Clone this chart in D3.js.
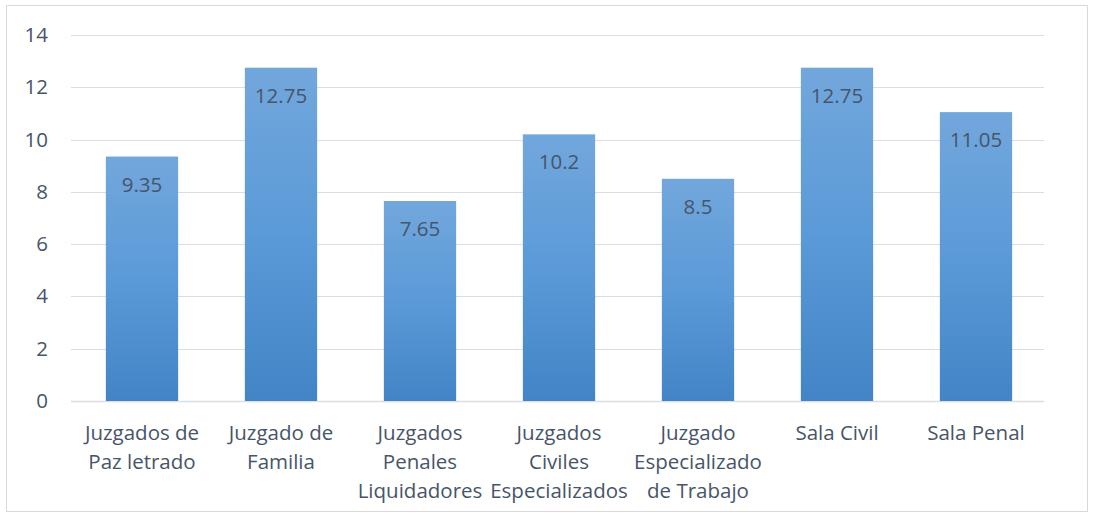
<!DOCTYPE html>
<html>
<head>
<meta charset="utf-8">
<script src="https://cdn.jsdelivr.net/npm/d3@7"></script>
<style>
  body { margin: 0; background: #fff; }
  text { font-family: "Open Sans", "Noto Sans", sans-serif; fill: #475569; }
</style>
</head>
<body>
<div id="chart"></div>
<script>
const categories = [
    ["Juzgados de", "Paz letrado"],
    ["Juzgado de", "Familia"],
    ["Juzgados", "Penales", "Liquidadores"],
    ["Juzgados", "Civiles", "Especializados"],
    ["Juzgado", "Especializado", "de Trabajo"],
    ["Sala Civil"],
    ["Sala Penal"]
];
const values = [9.35, 12.75, 7.65, 10.2, 8.5, 12.75, 11.05];
const yTicks = [0, 2, 4, 6, 8, 10, 12, 14];

const W = 1093, H = 517;
const margin = {top: 35, right: 49, bottom: 116, left: 71};
const width = W - margin.left - margin.right;
const height = H - margin.top - margin.bottom;
const fontSize = "20.5px";

const svg = d3.select("#chart").append("svg")
    .attr("width", W)
    .attr("height", H);

// chart frame
svg.append("rect")
    .attr("x", 6.5).attr("y", 5.5)
    .attr("width", 1081).attr("height", 506)
    .attr("fill", "none")
    .attr("stroke", "#d9d9d9");

const defs = svg.append("defs");
const grad = defs.append("linearGradient")
    .attr("id", "barGrad")
    .attr("x1", 0).attr("y1", 0).attr("x2", 0).attr("y2", 1);
grad.append("stop").attr("offset", "0%").attr("stop-color", "#72a7dc");
grad.append("stop").attr("offset", "50%").attr("stop-color", "#5b9ad8");
grad.append("stop").attr("offset", "100%").attr("stop-color", "#4284c6");

const g = svg.append("g").attr("transform", `translate(${margin.left}, ${margin.top})`);

const x = d3.scaleBand()
    .domain(d3.range(categories.length))
    .range([1.5, width + 1.5])
    .paddingInner(0.48)
    .paddingOuter(0.24);

const y = d3.scaleLinear()
    .domain([0, 14])
    .range([height, 0]);

// gridlines
g.append("g")
    .selectAll("line")
    .data(yTicks)
    .join("line")
    .attr("x1", 0)
    .attr("x2", width)
    .attr("y1", d => Math.round(y(d)) + 0.5)
    .attr("y2", d => Math.round(y(d)) + 0.5)
    .attr("stroke", "#d9dde4")
    .attr("stroke-width", d => d === 0 ? 1.5 : 1);

// y axis labels
const yAxis = d3.axisLeft(y).tickValues(yTicks).tickSize(0).tickPadding(23);
g.append("g")
    .call(yAxis)
    .call(s => s.select(".domain").remove())
    .selectAll("text")
    .style("font-size", fontSize)
    .style("font-family", "\"Open Sans\", \"Noto Sans\", sans-serif")
    .attr("fill", "#475569");

// bars
g.selectAll(".bar")
    .data(values)
    .join("rect")
    .attr("class", "bar")
    .attr("x", (d, i) => x(i))
    .attr("y", d => y(d))
    .attr("width", x.bandwidth())
    .attr("height", d => height - y(d))
    .attr("fill", "url(#barGrad)");

// data labels
g.selectAll(".label")
    .data(values)
    .join("text")
    .attr("class", "label")
    .attr("x", (d, i) => x(i) + x.bandwidth() / 2)
    .attr("y", d => y(d) + 35)
    .attr("text-anchor", "middle")
    .style("font-size", fontSize)
    .text(d => d);

// category labels
const xl = g.append("g").attr("transform", `translate(0, ${height})`);
categories.forEach((lines, i) => {
    const t = xl.append("text")
        .attr("text-anchor", "middle")
        .attr("x", x(i) + x.bandwidth() / 2)
        .attr("y", 39)
        .style("font-size", fontSize);
    lines.forEach((ln, j) => {
        t.append("tspan")
            .attr("x", x(i) + x.bandwidth() / 2)
            .attr("dy", j === 0 ? 0 : 29)
            .text(ln);
    });
});
</script>
</body>
</html>
